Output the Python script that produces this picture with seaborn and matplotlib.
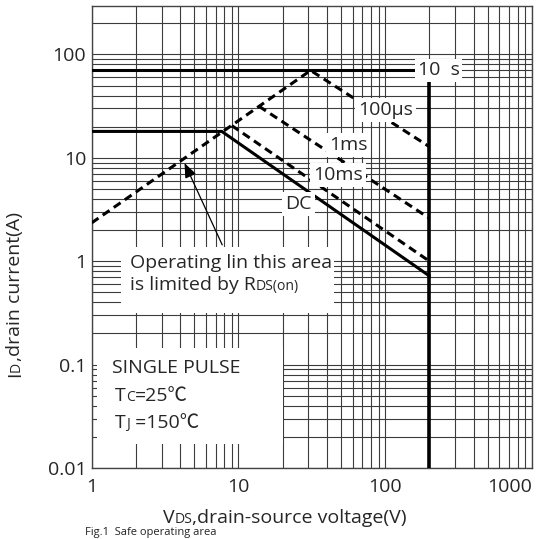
import matplotlib
matplotlib.use("Agg")
import matplotlib.pyplot as plt
import seaborn as sns
import pandas as pd
from matplotlib.ticker import LogLocator, FixedLocator, FixedFormatter, NullFormatter
from matplotlib.patches import Rectangle

# ---------------- data ----------------
x_ticks = [1, 10, 100, 1000]
x_tick_labels = ["1", "10", "100", "1000"]
y_ticks = [0.01, 0.1, 1, 10, 100]
y_tick_labels = ["0.01", "0.1", "1", "10", "100"]

# 10 us pulse current limit (solid)
us10_v = [1, 200]
us10_i = [70, 70]
# DC (solid)
dc_v = [1, 7.7, 200]
dc_i = [18, 18, 0.72]
# RDS(on) limit continuing into 100 us line (dashed)
us100_v = [1, 31, 200]
us100_i = [2.35, 70, 12.8]
# 1 ms (dashed)
ms1_v = [13.8, 200]
ms1_i = [31.5, 2.6]
# 10 ms (dashed)
ms10_v = [9.0, 200]
ms10_i = [20.5, 1.0]
# maximum VDS (solid, vertical)
vmax_v = [200, 200]
vmax_i = [0.01, 70]

curve_names = ["10  s", "100μs", "1ms", "10ms", "DC"]

# ---------------- figure ----------------
sns.set_style("white")
plt.rcParams["font.family"] = ["Open Sans", "Noto Sans CJK TC", "DejaVu Sans"]
FS = 14

fig = plt.figure(figsize=(5.39, 5.39), dpi=100)
W = 539.0
ax = fig.add_axes([91.7 / W, 71 / W, 440.3 / W, 462 / W])
ax.set_xscale("log")
ax.set_yscale("log")

ax.xaxis.set_major_locator(FixedLocator(x_ticks))
ax.xaxis.set_major_formatter(FixedFormatter(x_tick_labels))
ax.xaxis.set_minor_locator(LogLocator(base=10, subs=range(2, 10), numticks=30))
ax.xaxis.set_minor_formatter(NullFormatter())
ax.yaxis.set_major_locator(FixedLocator(y_ticks))
ax.yaxis.set_major_formatter(FixedFormatter(y_tick_labels))
ax.yaxis.set_minor_locator(LogLocator(base=10, subs=range(2, 10), numticks=30))
ax.yaxis.set_minor_formatter(NullFormatter())

ax.set_axisbelow(True)
ax.grid(True, which="both", color="#3c3c3c", lw=0.8)
ax.tick_params(which="both", length=0, labelsize=FS)
ax.tick_params(axis="x", pad=7)
ax.tick_params(axis="y", pad=4)
for s in ax.spines.values():
    s.set_color("#444444")
    s.set_linewidth(1.0)


def draw(v, i, dashed=False, lw=2.2):
    df = pd.DataFrame({"V": v, "I": i})
    ls = (0, (2.7, 1.7)) if dashed else "-"
    sns.lineplot(data=df, x="V", y="I", ax=ax, color="black", lw=lw,
                 sort=False, estimator=None, linestyle=ls, zorder=3)


draw(us10_v, us10_i)
draw(dc_v, dc_i)
draw(us100_v, us100_i, dashed=True)
draw(ms1_v, ms1_i, dashed=True)
draw(ms10_v, ms10_i, dashed=True)
draw(vmax_v, vmax_i, lw=2.6)

ax.set_xlim(1, 1000)
ax.set_ylim(0.01, 294)
ax.set_xlabel("")
ax.set_ylabel("")

# keep the last x tick label inside the figure (it is right-aligned in the reference)
ax.xaxis.get_major_ticks()[-1].label1.set_horizontalalignment("right")
ax.xaxis.get_major_ticks()[-1].label1.set_x(1.0)

# white areas behind the annotation texts
for (x0, y0, x1, y1) in [(0.0665, 0.3355, 0.5503, 0.4784),
                         (0.0127, 0.0519, 0.4345, 0.2597)]:
    ax.add_patch(Rectangle((x0, y0), x1 - x0, y1 - y0, transform=ax.transAxes,
                           facecolor="white", edgecolor="none", zorder=1.5))

# curve labels with white boxes
label_pos = [(231, 70), (100, 29), (56, 13.3), (47.7, 6.8), (25.6, 3.57)]
for name, (lv, li) in zip(curve_names, label_pos):
    ax.text(lv, li, name, ha="center", va="center", fontsize=FS, zorder=5,
            bbox=dict(boxstyle="square,pad=0.15", fc="white", ec="none"))


def rich(x, y, parts, transform, rotation=0, ha="left", va="center"):
    """parts: list of (text, scale). Smaller parts are subscripts sitting near baseline."""
    first, sc = parts[0]
    prev = ax.text(x, y, first, transform=transform, fontsize=FS * sc,
                   ha=ha, va=va, rotation=rotation, zorder=6, clip_on=False)
    for s, sc in parts[1:]:
        if rotation == 0:
            prev = ax.annotate(s, xy=(1, 0), xycoords=prev, fontsize=FS * sc,
                               ha="left", va="bottom", zorder=6,
                               annotation_clip=False)
        else:
            prev = ax.annotate(s, xy=(1, 1), xycoords=prev, fontsize=FS * sc,
                               ha="right", va="bottom", rotation=90, zorder=6,
                               annotation_clip=False)
    return prev


SUB = 0.72
# operating area note
ax.text(0.087, 0.4437, "Operating lin this area", transform=ax.transAxes,
        fontsize=FS, ha="left", va="center", zorder=6)
rich(0.087, 0.3961, [("is limited by R", 1.0), ("DS(on)", SUB)], ax.transAxes)

# conditions
ax.text(0.0454, 0.2165, "SINGLE PULSE", transform=ax.transAxes,
        fontsize=FS, ha="left", va="center", zorder=6)
rich(0.0529, 0.1558, [("T", 1.0), ("C", SUB), ("=25℃", 1.0)], ax.transAxes)
rich(0.0529, 0.0974, [("T", 1.0), ("J", SUB), (" =150℃", 1.0)], ax.transAxes)

# arrow
ax.annotate("", xy=(4.29, 8.9), xytext=(7.75, 1.44),
            arrowprops=dict(arrowstyle="-|>,head_length=0.55,head_width=0.22",
                            color="black", lw=0.9, mutation_scale=16,
                            shrinkA=0, shrinkB=0), zorder=6)

# axis labels
rich(163 / W, 1 - 518 / W, [("V", 1.0), ("DS", SUB), (",drain-source voltage(V)", 1.0)],
     fig.transFigure)
rich(15 / W, 1 - 377 / W, [("I", 1.0), ("D", SUB), (",drain current(A)", 1.0)],
     fig.transFigure, rotation=90, ha="center", va="bottom")

# caption (sits at the very bottom edge in the reference)
fig.text(85 / W, 1 / W, "Fig.1  Safe operating area", fontsize=8,
         ha="left", va="bottom", color="#222222")

fig.savefig("out.png", dpi=100, facecolor="white")
